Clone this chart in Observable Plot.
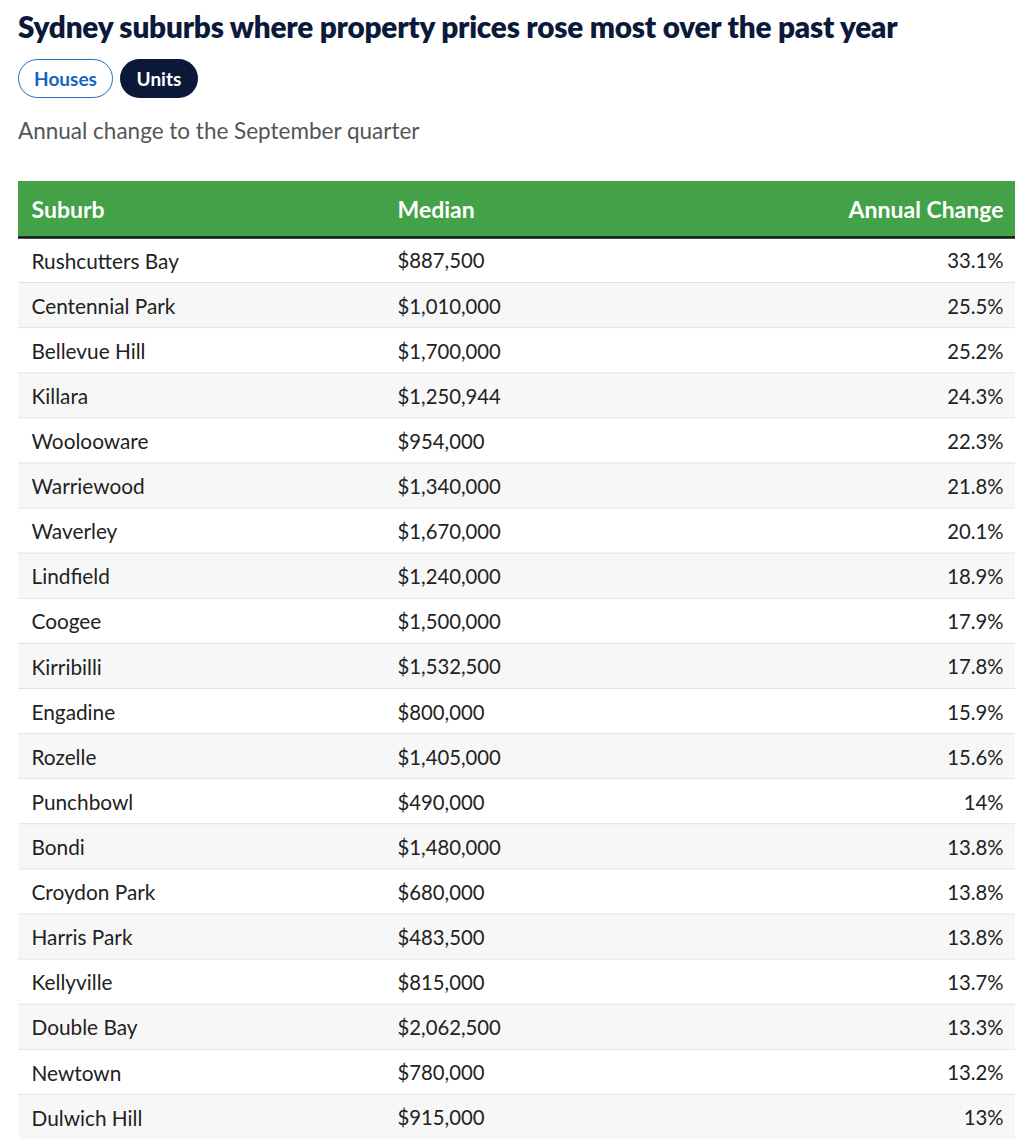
<!DOCTYPE html>
<html>
<head>
<meta charset="utf-8">
<script src="https://cdn.jsdelivr.net/npm/d3@7"></script>
<script src="https://cdn.jsdelivr.net/npm/@observablehq/plot@0.6"></script>
<style>
  html, body { margin: 0; padding: 0; background: #fff; }
  body { width: 1024px; font-family: Lato, "Noto Sans", sans-serif; }
  h1 { position: absolute; left: 18px; top: 9px; margin: 0; font-size: 29.7px; font-weight: 800; color: #0c1a3a; letter-spacing: -0.2px; white-space: nowrap; }
  .btn { position: absolute; top: 59px; height: 39px; box-sizing: border-box; border-radius: 20px; font-size: 19px; font-weight: 700; display: flex; align-items: center; justify-content: center; }
  .houses { left: 18px; width: 95px; border: 1.5px solid #1e6fbf; color: #1565c0; background: #fff; }
  .units { left: 120px; width: 78px; background: #0c1837; color: #fff; }
  .sub { position: absolute; left: 18px; top: 117px; font-size: 22.5px; color: #555; }
  #chart { position: absolute; left: 0; top: 181px; }
</style>
</head>
<body>
<h1>Sydney suburbs where property prices rose most over the past year</h1>
<div class="btn houses">Houses</div>
<div class="btn units">Units</div>
<div class="sub">Annual change to the September quarter</div>
<div id="chart"></div>
<script>
const suburbs = ["Rushcutters Bay","Centennial Park","Bellevue Hill","Killara","Woolooware","Warriewood","Waverley","Lindfield","Coogee","Kirribilli","Engadine","Rozelle","Punchbowl","Bondi","Croydon Park","Harris Park","Kellyville","Double Bay","Newtown","Dulwich Hill"];
const medians = [887500,1010000,1700000,1250944,954000,1340000,1670000,1240000,1500000,1532500,800000,1405000,490000,1480000,680000,483500,815000,2062500,780000,915000];
const changes = [33.1,25.5,25.2,24.3,22.3,21.8,20.1,18.9,17.9,17.8,15.9,15.6,14,13.8,13.8,13.8,13.7,13.3,13.2,13];
const headers = ["Suburb","Median","Annual Change"];

const rows = suburbs.map((s, i) => ({i, suburb: s, median: medians[i], change: changes[i]}));
const fmtMoney = d3.format("$,");
const fmtPct = v => (Number.isInteger(v) ? v : v.toFixed(1)) + "%";

// layout (not data)
const W = 1024, H = 964, headerH = 1.24;
const left = 18, right = 1015;
const colX = [31, 397, 1003];
const colAnchor = ["start", "start", "end"];
const headerCells = headers.map((h, k) => ({h, k, x: colX[k], anchor: colAnchor[k]}));

const chart = Plot.plot({
  width: W, height: H,
  margin: 0,
  x: {domain: [0, W], range: [0, W], axis: null},
  y: {domain: [-headerH, 20], range: [0, 958], axis: null},
  style: {fontFamily: "Lato, 'Noto Sans', sans-serif"},
  marks: [
    Plot.rect(rows, {x1: left, x2: right, y1: d => d.i, y2: d => d.i + 1, fill: d => d.i % 2 ? "#f7f7f7" : "#ffffff"}),
    Plot.ruleY(rows.slice(1), {y: d => d.i, x1: left, x2: right, stroke: "#e2e2e2", strokeWidth: 1}),
    Plot.rect([0], {x1: left, x2: right, y1: -headerH, y2: 0, fill: "#43a148"}),
    Plot.ruleY([0], {x1: left, x2: right, stroke: "#151515", strokeWidth: 2.5}),
    Plot.text(headerCells.filter(c => c.anchor === "start"), {x: "x", y: -headerH / 2, dy: 1, text: "h", textAnchor: "start", fill: "#fff", fontSize: 23, fontWeight: 700}),
    Plot.text(headerCells.filter(c => c.anchor === "end"), {x: "x", y: -headerH / 2, dy: 1, text: "h", textAnchor: "end", fill: "#fff", fontSize: 23, fontWeight: 700}),
    Plot.text(rows, {x: colX[0], y: d => d.i + 0.5, dy: 2, text: "suburb", textAnchor: "start", fill: "#222", fontSize: 20.8}),
    Plot.text(rows, {x: colX[1], y: d => d.i + 0.5, dy: 2, text: d => fmtMoney(d.median), textAnchor: "start", fill: "#222", fontSize: 20.3}),
    Plot.text(rows, {x: colX[2], y: d => d.i + 0.5, dy: 2, text: d => fmtPct(d.change), textAnchor: "end", fill: "#222", fontSize: 20.3})
  ]
});
document.getElementById("chart").appendChild(chart);
</script>
</body>
</html>
